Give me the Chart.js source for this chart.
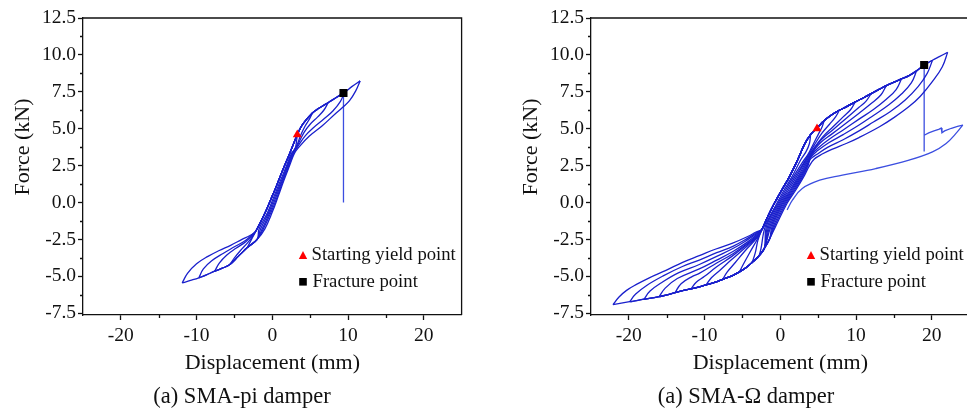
<!DOCTYPE html>
<html>
<head>
<meta charset="utf-8">
<script src="https://cdn.jsdelivr.net/npm/chart.js@4.4.1/dist/chart.umd.min.js"></script>
<style>
  html, body { margin: 0; padding: 0; background: #fff; }
  body { width: 967px; height: 412px; overflow: hidden; position: relative; }
  canvas { position: absolute; top: 0; }
  #piChart { left: 0; }
  #omegaChart { left: 508px; }
</style>
</head>
<body>
<canvas id="piChart" width="480" height="412"></canvas>
<canvas id="omegaChart" width="480" height="412"></canvas>
<script>
// Axis ticks (shared by both panels)
const xTickValues = [-20, -10, 0, 10, 20];
const xMinorTicks = [-15, -5, 5, 15];
const yTickValues = [-7.5, -5, -2.5, 0, 2.5, 5, 7.5, 10, 12.5];
const yMinorTicks = [-6.25, -3.75, -1.25, 1.25, 3.75, 6.25, 8.75, 11.25];

// SMA-pi damper
// loading path: steep band + upper envelope
const piLoadPos = [[-2.1, -1.88], [-1.0, -0.75], [0.0, 0.45], [0.5, 1.06], [1.5, 2.35], [2.3, 3.32], [2.9, 4.1], [3.3, 4.6], [4.0, 5.3], [5.3, 6.07], [6.2, 6.4], [7.4, 6.78], [8.4, 7.1], [9.5, 7.45], [10.5, 7.85], [11.6, 8.24]];
// lower envelope on the negative side
const piLoadNeg = [[-2.0, -2.5], [-3.3, -3.05], [-4.5, -3.65], [-5.6, -4.2], [-6.6, -4.45], [-7.6, -4.65], [-8.7, -4.9], [-9.7, -5.1], [-10.8, -5.28], [-11.9, -5.45]];
const piPosTips = [[3.3, 4.6], [5.3, 6.07], [7.4, 6.78], [9.5, 7.45], [11.6, 8.24]];
const piPosUnload = [
  [[3.2, 4.15], [3.0, 3.6]],
  [[4.9, 5.65], [4.3, 5.15], [3.7, 4.5], [3.3, 3.95]],
  [[6.8, 6.25], [6.0, 5.8], [5.0, 5.3], [4.2, 4.75], [3.4, 3.95]],
  [[9.0, 6.85], [8.0, 6.2], [6.8, 5.65], [5.5, 5.1], [4.4, 4.55], [3.5, 3.9]],
  [[11.0, 7.55], [10.2, 6.9], [9.3, 6.45], [8.4, 6.05], [6.6, 5.2], [4.9, 4.5], [3.6, 3.8]]
];
// unloading through the steep band, one per cycle
const piDescBand = [
  [[2.55, 3.35], [1.85, 2.45], [1.05, 1.45], [0.25, 0.45], [-0.6, -0.65], [-1.75, -1.8]],
  [[2.65, 3.35], [1.95, 2.45], [1.2, 1.45], [0.4, 0.45], [-0.45, -0.65], [-1.55, -1.8]],
  [[2.75, 3.35], [2.05, 2.45], [1.3, 1.45], [0.55, 0.45], [-0.3, -0.65], [-1.35, -1.8]],
  [[2.85, 3.35], [2.15, 2.45], [1.4, 1.45], [0.7, 0.45], [-0.15, -0.65], [-1.2, -1.8]],
  [[2.95, 3.35], [2.25, 2.45], [1.5, 1.45], [0.8, 0.45], [0.0, -0.65], [-1.0, -1.8]]
];
const piNegTips = [[-3.3, -3.05], [-5.6, -4.2], [-7.6, -4.65], [-9.7, -5.1], [-11.9, -5.45]];
const piNegUnload = [
  [[-2.8, -2.55], [-2.3, -2.05]],
  [[-5.0, -3.75], [-4.2, -3.25], [-3.3, -2.75], [-2.4, -2.15]],
  [[-7.0, -4.1], [-6.0, -3.55], [-4.8, -3.1], [-3.5, -2.65], [-2.4, -2.1]],
  [[-9.1, -4.5], [-8.0, -3.95], [-6.5, -3.45], [-5.0, -3.0], [-3.5, -2.55], [-2.4, -2.05]],
  [[-11.2, -4.8], [-10.0, -4.15], [-8.5, -3.65], [-7.0, -3.25], [-5.5, -2.9], [-4.0, -2.5], [-3.0, -2.25], [-2.2, -1.95]]
];
const piYield = [3.3, 4.6];
const piFracture = [9.4, 7.42];
const piDrop = [[9.4, 7.42], [9.4, 0.0]];

// SMA-Omega damper
const omegaLoadPos = [[-2.4, -1.8], [-1.7, -1.0], [-0.8, -0.07], [0.2, 0.85], [1.2, 1.74], [2.3, 2.9], [3.2, 3.95], [4.0, 4.6], [4.85, 5.05], [5.8, 5.55], [6.8, 5.95], [7.8, 6.25], [8.7, 6.48], [9.9, 6.82], [11.0, 7.1], [12.0, 7.38], [13.1, 7.68], [14.0, 7.92], [15.0, 8.15], [16.0, 8.37], [17.0, 8.6], [18.0, 8.92], [19.0, 9.31], [20.1, 9.64], [21.0, 9.88], [22.1, 10.17]];
const omegaLoadNeg = [[-1.4, -2.45], [-2.1, -3.1], [-2.8, -3.6], [-3.7, -4.05], [-4.5, -4.4], [-5.4, -4.7], [-6.3, -4.95], [-7.6, -5.2], [-8.5, -5.38], [-9.8, -5.58], [-10.7, -5.72], [-11.8, -5.85], [-12.9, -5.97], [-13.9, -6.1], [-15.1, -6.28], [-16.0, -6.38], [-17.3, -6.5], [-18.0, -6.55], [-19.5, -6.69], [-19.9, -6.72], [-22.1, -6.92]];
const omegaPosTips = [[4.0, 4.6], [5.8, 5.55], [7.8, 6.25], [9.9, 6.82], [12.0, 7.38], [14.0, 7.92], [16.0, 8.37], [18.0, 8.92], [20.1, 9.64], [22.1, 10.17]];
const omegaPosUnload = [
  [[3.85, 4.0], [3.4, 3.45], [2.65, 2.85]],
  [[5.5, 5.1], [5.0, 4.6], [4.4, 4.0], [3.7, 3.3], [2.9, 2.7]],
  [[7.3, 5.8], [6.5, 5.3], [5.5, 4.7], [4.5, 3.9], [3.7, 3.2], [3.05, 2.65]],
  [[9.3, 6.3], [8.3, 5.8], [7.0, 5.15], [5.6, 4.45], [4.4, 3.65], [3.2, 2.7]],
  [[11.3, 6.85], [10.4, 6.45], [8.8, 5.75], [7.0, 4.95], [5.4, 4.25], [4.3, 3.5], [3.35, 2.7]],
  [[13.3, 7.3], [12.0, 6.7], [10.4, 6.05], [8.5, 5.3], [6.7, 4.6], [5.2, 4.0], [4.2, 3.35], [3.45, 2.65]],
  [[15.3, 7.65], [14.0, 7.0], [12.3, 6.3], [10.4, 5.65], [8.4, 4.95], [6.5, 4.3], [5.0, 3.7], [4.1, 3.2], [3.55, 2.6]],
  [[17.3, 8.1], [16.0, 7.35], [14.3, 6.6], [12.3, 5.9], [10.4, 5.25], [8.3, 4.6], [6.4, 4.05], [4.9, 3.5], [4.0, 3.05], [3.6, 2.55]],
  [[19.4, 8.75], [18.2, 7.85], [16.5, 6.95], [14.5, 6.15], [12.3, 5.45], [10.4, 4.85], [8.3, 4.25], [6.3, 3.75], [4.8, 3.25], [4.0, 2.95], [3.65, 2.5]],
  [[21.4, 9.2], [20.1, 8.2], [18.5, 7.2], [17.0, 6.5], [15.0, 5.75], [13.1, 5.13], [10.4, 4.4], [8.7, 4.0], [6.8, 3.6], [5.6, 3.3], [4.5, 2.95], [3.8, 2.45]]
];
const omegaDescBand = [
  [[1.55, 1.75], [0.5, 0.85], [-0.45, -0.05], [-2.0, -1.65]],
  [[1.75, 1.75], [0.7, 0.85], [-0.3, -0.05], [-1.85, -1.65]],
  [[1.95, 1.75], [0.9, 0.85], [-0.15, -0.05], [-1.7, -1.65]],
  [[2.15, 1.75], [1.1, 0.85], [0.0, -0.05], [-1.55, -1.65]],
  [[2.35, 1.75], [1.3, 0.85], [0.15, -0.05], [-1.4, -1.65]],
  [[2.5, 1.75], [1.45, 0.85], [0.3, -0.05], [-1.25, -1.65]],
  [[2.65, 1.75], [1.6, 0.85], [0.45, -0.05], [-1.1, -1.65]],
  [[2.8, 1.75], [1.75, 0.85], [0.6, -0.05], [-0.95, -1.65]],
  [[2.95, 1.75], [1.9, 0.85], [0.75, -0.05], [-0.8, -1.65]],
  [[3.1, 1.75], [2.05, 0.85], [0.9, -0.05], [-0.65, -1.65]]
];
const omegaNegTips = [[-3.7, -4.05], [-5.4, -4.7], [-7.6, -5.2], [-9.8, -5.58], [-11.8, -5.85], [-13.9, -6.1], [-16.0, -6.38], [-18.0, -6.55], [-19.9, -6.72], [-22.1, -6.92]];
const omegaNegUnload = [
  [[-3.3, -3.4], [-2.95, -2.55]],
  [[-4.9, -4.2], [-4.1, -3.45], [-3.0, -2.45]],
  [[-7.0, -4.7], [-6.0, -4.1], [-4.7, -3.3], [-3.0, -2.35]],
  [[-9.1, -5.1], [-8.0, -4.6], [-6.5, -3.9], [-4.6, -3.05], [-3.0, -2.3]],
  [[-11.1, -5.4], [-10.0, -5.0], [-8.4, -4.35], [-6.4, -3.65], [-4.5, -2.9], [-3.0, -2.25]],
  [[-13.1, -5.5], [-11.6, -5.0], [-10.7, -4.8], [-8.4, -4.1], [-6.2, -3.45], [-4.4, -2.8], [-3.0, -2.2]],
  [[-15.2, -5.8], [-13.6, -5.15], [-10.7, -4.5], [-8.4, -3.9], [-6.2, -3.3], [-4.4, -2.7], [-3.05, -2.15]],
  [[-17.2, -6.0], [-15.6, -5.4], [-13.4, -4.75], [-10.7, -4.2], [-8.4, -3.65], [-6.2, -3.1], [-4.4, -2.55], [-3.1, -2.1]],
  [[-19.1, -6.2], [-17.6, -5.6], [-15.4, -4.95], [-13.0, -4.35], [-10.7, -3.9], [-8.4, -3.4], [-6.2, -2.95], [-4.4, -2.45], [-3.15, -2.05]],
  [[-21.3, -6.4], [-20.3, -5.95], [-19.0, -5.55], [-17.3, -5.1], [-15.1, -4.6], [-12.9, -4.05], [-10.7, -3.6], [-8.5, -3.15], [-6.3, -2.75], [-4.3, -2.3], [-3.2, -2.0]]
];
const omegaYield = [4.85, 5.0];
const omegaFracture = [19.0, 9.31];
const omegaDrop = [[19.0, 9.31], [19.0, 3.45], [19.0, 4.56]];
const omegaReload = [[19.0, 4.56], [19.6, 4.72], [20.3, 4.85], [21.0, 4.97], [21.25, 5.05], [21.35, 4.72], [21.7, 4.85], [22.6, 5.03], [23.4, 5.16], [24.1, 5.25]];
const omegaLastUnload = [[24.1, 5.25], [23.2, 4.68], [21.9, 4.0], [20.1, 3.43], [17.0, 2.87], [12.6, 2.3], [8.2, 1.85], [5.2, 1.51], [2.9, 0.95], [1.6, 0.16], [0.9, -0.5]];

const SERIF = "'Liberation Serif', 'Times New Roman', serif";
const LINE = "#1a20cc";
const LINE_LIGHT = "#3b4ee0";
const INK = "#111";

const toXY = (pts) => pts.map(([x, y]) => ({ x, y }));

function buildLoops(d) {
  const sets = [];
  const line = (pts, tension = 0.4, color = LINE) =>
    sets.push({
      data: toXY(pts),
      showLine: true,
      borderColor: color,
      borderWidth: 1.3,
      pointRadius: 0,
      tension,
      order: 2,
    });

  // each cycle: rise (neg tip -> pos tip), fall (pos tip -> neg tip)
  let rise = [d.loadPos[0]];
  d.posTips.forEach((tip, k) => {
    const from = rise[rise.length - 1];
    line([...rise, ...d.loadPos.filter((p) => p[0] > from[0] + 0.2 && p[0] < tip[0] - 0.2), tip]);
    const fall = [...d.posUnload[k], ...d.descBand[k]];
    const end = fall[fall.length - 1];
    const neg = d.negTips[k];
    line([tip, ...fall, ...d.loadNeg.filter((p) => p[0] < end[0] - 0.2 && p[0] > neg[0] + 0.2), neg]);
    rise = [neg, ...d.negUnload[k]];
  });
  const last = rise[rise.length - 1];
  line([...rise, ...d.loadPos.filter((p) => p[0] > last[0] + 0.2 && p[0] < d.fracture[0] - 0.2), d.fracture]);
  d.tail.forEach((seg) => line(seg.pts, seg.tension, seg.color));

  sets.push({
    data: toXY([d.yieldPt]),
    pointStyle: "triangle",
    pointRadius: 5.2,
    backgroundColor: "#f00",
    borderColor: "#f00",
    borderWidth: 0,
    order: 0,
  });
  sets.push({
    data: toXY([d.fracture]),
    pointStyle: "rect",
    pointRadius: 5.7,
    backgroundColor: "#000",
    borderColor: "#000",
    borderWidth: 0,
    order: 0,
  });
  return sets;
}

// Extra drawing: box top/right, minor ticks, y title, inner legend, caption
const decor = {
  id: "decor",
  afterDraw(chart, args, o) {
    const { ctx, chartArea: a, scales } = chart;
    const { x, y } = scales;
    ctx.save();
    ctx.strokeStyle = INK;
    ctx.lineWidth = 1.3;
    ctx.beginPath();
    ctx.moveTo(a.left, a.top);
    ctx.lineTo(a.right, a.top);
    ctx.lineTo(a.right, a.bottom);
    yMinorTicks.forEach((v) => {
      const py = Math.round(y.getPixelForValue(v)) + 0.5;
      ctx.moveTo(a.left, py);
      ctx.lineTo(a.left - 3, py);
    });
    xMinorTicks.forEach((v) => {
      const px = Math.round(x.getPixelForValue(v)) + 0.5;
      ctx.moveTo(px, a.bottom);
      ctx.lineTo(px, a.bottom + 3);
    });
    ctx.stroke();

    ctx.fillStyle = INK;
    ctx.textBaseline = "middle";

    // y axis title
    ctx.save();
    ctx.translate(23, 147);
    ctx.rotate(-Math.PI / 2);
    ctx.textAlign = "center";
    ctx.font = `22px ${SERIF}`;
    ctx.fillText("Force (kN)", 0, 0);
    ctx.restore();

    // legend inside plot
    const lx = a.left + 220;
    ctx.fillStyle = "#f00";
    ctx.beginPath();
    ctx.moveTo(lx, 251);
    ctx.lineTo(lx + 4.2, 259);
    ctx.lineTo(lx - 4.2, 259);
    ctx.closePath();
    ctx.fill();
    ctx.fillStyle = "#000";
    ctx.fillRect(lx - 3.8, 278, 7.6, 7.6);
    ctx.fillStyle = INK;
    ctx.textAlign = "left";
    ctx.font = `18.7px ${SERIF}`;
    ctx.fillText("Starting yield point", lx + 8.5, 255);
    ctx.fillText("Fracture point", lx + 9.5, 282);

    // caption
    ctx.textAlign = "center";
    ctx.font = `22.5px ${SERIF}`;
    ctx.fillText(o.caption, o.captionX, 397);
    ctx.restore();
  },
};

function makeChart(canvasId, d, caption, captionX) {
  return new Chart(document.getElementById(canvasId), {
    type: "scatter",
    data: { datasets: buildLoops(d) },
    plugins: [decor],
    options: {
      responsive: false,
      animation: false,
      devicePixelRatio: 1,
      events: [],
      layout: { padding: { top: 18, right: 18.4, left: 0, bottom: 0 } },
      plugins: {
        legend: { display: false },
        tooltip: { enabled: false },
        decor: { caption, captionX },
      },
      scales: {
        x: {
          type: "linear",
          min: -25,
          max: 25,
          afterFit: (s) => { s.height = 97; },
          afterBuildTicks: (s) => { s.ticks = xTickValues.map((value) => ({ value })); },
          ticks: { color: INK, font: { family: SERIF, size: 19.5 }, padding: 4, maxRotation: 0, autoSkip: false },
          grid: { drawOnChartArea: false, drawTicks: true, tickLength: 5, tickColor: INK, tickWidth: 1.3 },
          border: { color: INK, width: 1.3 },
          title: { display: true, text: "Displacement (mm)", color: INK, font: { family: SERIF, size: 22 }, padding: { top: 0, bottom: 36 } },
        },
        y: {
          type: "linear",
          min: -7.62,
          max: 12.5,
          afterFit: (s) => { s.width = 83; },
          afterBuildTicks: (s) => { s.ticks = yTickValues.map((value) => ({ value })); },
          ticks: { color: INK, font: { family: SERIF, size: 19.5 }, padding: 2, autoSkip: false, callback: (v) => Number(v).toFixed(1) },
          grid: { drawOnChartArea: false, drawTicks: true, tickLength: 5, tickColor: INK, tickWidth: 1.3 },
          border: { color: INK, width: 1.3 },
        },
      },
    },
  });
}

makeChart("piChart", {
  loadPos: piLoadPos, loadNeg: piLoadNeg,
  posTips: piPosTips, posUnload: piPosUnload, descBand: piDescBand,
  negTips: piNegTips, negUnload: piNegUnload,
  yieldPt: piYield, fracture: piFracture,
  tail: [{ pts: piDrop, tension: 0, color: LINE_LIGHT }],
}, "(a) SMA-pi damper", 242);

makeChart("omegaChart", {
  loadPos: omegaLoadPos, loadNeg: omegaLoadNeg,
  posTips: omegaPosTips, posUnload: omegaPosUnload, descBand: omegaDescBand,
  negTips: omegaNegTips, negUnload: omegaNegUnload,
  yieldPt: omegaYield, fracture: omegaFracture,
  tail: [
    { pts: omegaDrop, tension: 0, color: LINE_LIGHT },
    { pts: omegaReload, tension: 0, color: LINE_LIGHT },
    { pts: omegaLastUnload, tension: 0.4, color: LINE_LIGHT },
  ],
}, "(a) SMA-\u03a9 damper", 238);
</script>
</body>
</html>
